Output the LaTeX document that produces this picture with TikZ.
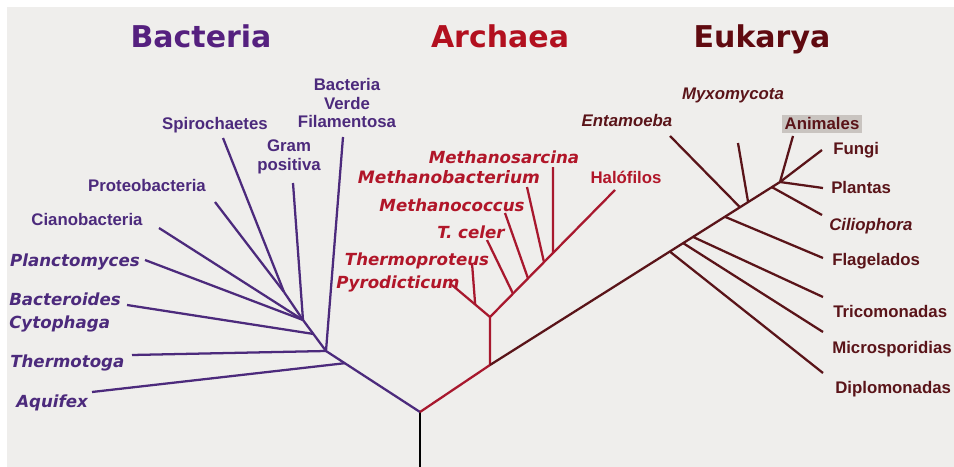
\documentclass[tikz,border=0pt]{standalone}
\usepackage{fontspec}
\setmainfont{Liberation Sans}
\newfontfamily\dvfont{DejaVu Sans}
\usetikzlibrary{calc}
\definecolor{bgcol}{HTML}{EFEEEC}
\definecolor{bactT}{HTML}{55207F}
\definecolor{bactL}{HTML}{4C2A7C}
\definecolor{archT}{HTML}{B2101F}
\definecolor{archL}{HTML}{A8182E}
\definecolor{eukT}{HTML}{600A10}
\definecolor{eukL}{HTML}{5A1419}
\definecolor{boxcol}{HTML}{C9C4C0}
\tikzset{
  title/.style={font=\dvfont\bfseries\fontsize{22.5pt}{26pt}\selectfont, anchor=base, inner sep=0pt},
  lbl/.style={font=\bfseries\fontsize{12.6pt}{14pt}\selectfont, inner sep=0pt, text height=9pt, text depth=0pt},
  ilbl/.style={lbl, font=\dvfont\bfseries\itshape\fontsize{12.5pt}{14pt}\selectfont},
  elbl/.style={lbl, font=\bfseries\itshape\fontsize{12.6pt}{14pt}\selectfont},
  mlbl/.style={font=\bfseries\fontsize{12.6pt}{14pt}\selectfont, inner sep=0pt, align=center},
  bl/.style={text=bactL}, al/.style={text=archL!90!red}, el/.style={text=eukL},
  bbr/.style={draw=bactL, line width=1.7pt, line join=round},
  abr/.style={draw=archL, line width=1.7pt, line join=round},
  ebr/.style={draw=eukL, line width=1.7pt, line join=round}
}
\begin{document}
\begin{tikzpicture}[x=0.75pt, y=-0.75pt]
\useasboundingbox (0,0) rectangle (954,467);
\fill[white] (0,0) rectangle (954,467);
\fill[bgcol] (7,7) rectangle (954,467);
% titles
\node[title, text=bactT] (tbac) at (201,48) {Bacteria};
\node[title, text=archT] (tarc) at (500,48) {Archaea};
\node[title, text=eukT] (teuk) at (762,48) {Eukarya};
% tree points
\coordinate (rb) at (420,467);
\coordinate (r) at (420,412);
\coordinate (b0) at (326,351);
\coordinate (b1) at (303,320);
\coordinate (b2) at (284,292);
\coordinate (a0) at (490,365);
\coordinate (a1) at (490,317);
\coordinate (e0) at (780,182);
% leaves
\coordinate (lAq) at (92,392);
\coordinate (lTg) at (132,355);
\coordinate (lBv) at (343,137);
\coordinate (lBc) at (127,305);
\coordinate (lGp) at (293,183);
\coordinate (lSp) at (223,138);
\coordinate (lPr) at (215,202);
\coordinate (lCi) at (159,228);
\coordinate (lPl) at (145,260);
\coordinate (lHa) at (615,190);
\coordinate (lPy) at (452,285);
\coordinate (lTp) at (472,263);
\coordinate (lTc) at (487,240);
\coordinate (lMc) at (505,213);
\coordinate (lMb) at (527,187);
\coordinate (lMs) at (553,167);
\coordinate (lDi) at (823,373);
\coordinate (lMi) at (823,332);
\coordinate (lTr) at (823,297);
\coordinate (lFl) at (823,258);
\coordinate (lEn) at (670,136);
\coordinate (lMx) at (738,143);
\coordinate (lCl) at (822,215);
\coordinate (lAn) at (793,136);
\coordinate (lFu) at (822,150);
\coordinate (lPa) at (823,188);
% branch points
\coordinate (bAq) at ($(r)!0.8!(b0)$);
\coordinate (bBc) at ($(b0)!0.55!(b1)$);
\coordinate (aTp) at ($(a1)!0.39!(lPy)$);
\coordinate (aTc) at ($(a1)!0.184!(lHa)$);
\coordinate (aMc) at ($(a1)!0.304!(lHa)$);
\coordinate (aMb) at ($(a1)!0.432!(lHa)$);
\coordinate (aMs) at ($(a1)!0.504!(lHa)$);
\coordinate (eDi) at ($(a0)!0.62!(e0)$);
\coordinate (eMi) at ($(a0)!0.666!(e0)$);
\coordinate (eTr) at ($(a0)!0.70!(e0)$);
\coordinate (eFl) at ($(a0)!0.81!(e0)$);
\coordinate (eEn) at ($(a0)!0.862!(e0)$);
\coordinate (eMx) at ($(a0)!0.89!(e0)$);
\coordinate (eCl) at ($(a0)!0.972!(e0)$);
% root
\draw[line width=1.7pt, black] (rb) -- (r);
% bacteria
\draw[bbr] (r) -- (b0) -- (b1) -- (b2);
\draw[bbr] (bAq) -- (lAq);
\draw[bbr] (b0) -- (lTg);
\draw[bbr] (b0) -- (lBv);
\draw[bbr] (bBc) -- (lBc);
\draw[bbr] (b1) -- (lGp);
\draw[bbr] (b1) -- (lCi);
\draw[bbr] (b1) -- (lPl);
\draw[bbr] (b2) -- (lSp);
\draw[bbr] (b2) -- (lPr);
% archaea
\draw[abr] (r) -- (a0) -- (a1) -- (lHa);
\draw[abr] (a1) -- (lPy);
\draw[abr] (aTp) -- (lTp);
\draw[abr] (aTc) -- (lTc);
\draw[abr] (aMc) -- (lMc);
\draw[abr] (aMb) -- (lMb);
\draw[abr] (aMs) -- (lMs);
% eukarya
\draw[ebr] (a0) -- (e0);
\foreach \p/\l in {eDi/lDi, eMi/lMi, eTr/lTr, eFl/lFl, eEn/lEn, eMx/lMx, eCl/lCl, e0/lAn, e0/lFu, e0/lPa}
  \draw[ebr] (\p) -- (\l);
% bacteria labels
\node[mlbl, bl] (nBv) at (347,103) {Bacteria\\Verde\\Filamentosa};
\node[lbl, bl] (nSp) at (215,123) {Spirochaetes};
\node[mlbl, bl] (nGp) at (289,157) {Gram\\positiva};
\node[lbl, bl] (nPr) at (147,185) {Proteobacteria};
\node[lbl, bl] (nCi) at (87,219) {Cianobacteria};
\node[ilbl, bl] (nPl) at (75,260) {Planctomyces};
\node[ilbl, bl, anchor=west] (nBc) at (9,299) {Bacteroides};
\node[ilbl, bl, anchor=west] (nCy) at (9,322) {Cytophaga};
\node[ilbl, bl, anchor=west] (nTg) at (10,361) {Thermotoga};
\node[ilbl, bl, anchor=west] (nAq) at (16,401) {Aquifex};
% archaea labels
\node[ilbl, al] (nMs) at (504,157) {Methanosarcina};
\node[ilbl, al, font=\dvfont\bfseries\itshape\fontsize{12.8pt}{14pt}\selectfont] (nMb) at (449,178) {Methanobacterium};
\node[ilbl, al] (nMc) at (452,205) {Methanococcus};
\node[ilbl, al] (nTc) at (471,232) {T. celer};
\node[ilbl, al] (nTp) at (417,259) {Thermoproteus};
\node[ilbl, al] (nPy) at (398,282) {Pyrodicticum};
\node[lbl, al] (nHa) at (626,177) {Halófilos};
% eukarya labels
\node[elbl, el] (nMx) at (733,93) {Myxomycota};
\node[elbl, el] (nEn) at (627,121) {Entamoeba};
\node[lbl, el, fill=boxcol, inner xsep=2pt, inner ysep=2.5pt] (nAn) at (822,124) {Animales};
\node[lbl, el, anchor=west] (nFu) at (833,148) {Fungi};
\node[lbl, el, anchor=west] (nPa) at (831,188) {Plantas};
\node[elbl, el, anchor=west] (nCl) at (829,224) {Ciliophora};
\node[lbl, el, anchor=west] (nFl) at (832,259) {Flagelados};
\node[lbl, el, anchor=west] (nTr) at (833,311) {Tricomonadas};
\node[lbl, el, anchor=west] (nMi) at (832,347) {Microsporidias};
\node[lbl, el, anchor=west] (nDi) at (835,387) {Diplomonadas};
\end{tikzpicture}
\end{document}
